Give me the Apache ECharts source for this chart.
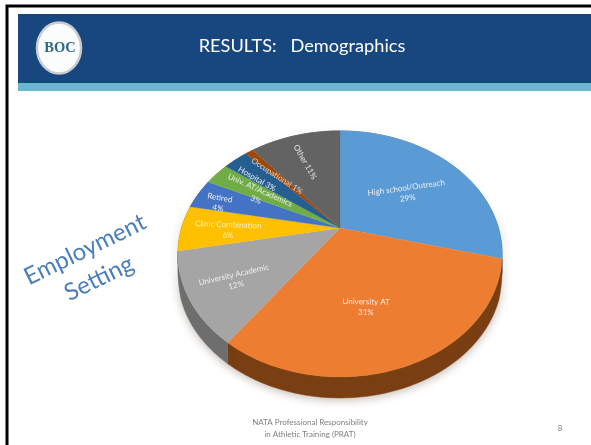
<!DOCTYPE html>
<html><head><meta charset="utf-8">
<style>html,body{margin:0;padding:0;background:#fff}#c{width:591px;height:445px;filter:blur(.35px)}</style>
<script src="https://cdn.jsdelivr.net/npm/echarts@6/dist/echarts.min.js"></script>
</head><body><div id="c"></div>
<script>
const categories = ['High school/Outreach','University AT','University Academic','Clinic Combination','Retired','Univ. AT/Academics','Hospital','Occupational','Other'];
const values = [29,31,12,6,4,3,3,1,11];
const labelTexts = ['High school/Outreach\n29%','University AT\n31%','University Academic\n12%','Clinic Combination\n6%','Retired\n4%','Univ. AT/Academics\n3%','Hospital 3%','Occupational 1%','Other 11%'];
const colors = ['#5b9bd5','#ed7d31','#a5a5a5','#ffc000','#4472c4','#70ad47','#255e91','#9e480e','#636363'];
const wallColors = ['#3c6a94','#7a3f12','#6f6f6f','#a67d00','#2c4a80','#48702d','#183d5e','#66300a','#404040'];
// label placement on the pie's disc (unit circle) and text rotation
const labelSpots = [[.451,-.318,8],[.144,.589,-1],[-.606,.405,13],[-.704,.017,-2],[-.80,-.223,-10],[-.55,-.298,-24],[-.574,-.457,-30],[-.438,-.488,-33],[-.25,-.638,-60]];

const total = values.reduce((a,b)=>a+b,0);
const PIE = {cx:340,cy:228,A:117.5,B:158.5,k:.211,depth:21};
function project(u,v){const d=1-PIE.k*v;return [PIE.cx+PIE.B*u/d,PIE.cy+PIE.A*v/d];}
function rim(a0,a1){const pts=[];const n=Math.max(4,Math.ceil((a1-a0)/0.02));
  for(let i=0;i<=n;i++){const a=a0+(a1-a0)*i/n;pts.push(project(Math.sin(a),-Math.cos(a)));}return pts;}
let acc=0;
const rows = values.map((v,i)=>{const s=acc;acc+=v;return [i,s,acc];});

function renderWall(params,api){
  const i=api.value(0),a0=api.value(1)/total*2*Math.PI,a1=api.value(2)/total*2*Math.PI;
  const top=rim(a0,a1);
  const low=top.map(p=>[p[0],p[1]+PIE.depth*Math.max(0,Math.min(1,(p[1]-PIE.cy+20)/70))]).reverse();
  return {type:'polygon',shape:{points:top.concat(low)},style:{fill:wallColors[i],stroke:wallColors[i],lineWidth:.5,shadowBlur:9,shadowColor:'rgba(90,70,50,.35)',shadowOffsetY:2}};
}
function renderTop(params,api){
  const i=api.value(0),a0=api.value(1)/total*2*Math.PI,a1=api.value(2)/total*2*Math.PI;
  const pts=[[PIE.cx,PIE.cy]].concat(rim(a0,a1));
  const sp=labelSpots[i],c=project(sp[0],sp[1]);
  return {type:'group',children:[
    {type:'polygon',shape:{points:pts},style:{fill:colors[i],stroke:colors[i],lineWidth:.3}},
    {type:'text',x:c[0],y:c[1],rotation:sp[2]*Math.PI/180,z2:5,
      style:{text:labelTexts[i],x:0,y:0,align:'center',verticalAlign:'middle',lineHeight:10.5,
        font:'8px Lato',fill:i===3?'#fff3c8':(i===7?'#f3d9bf':'#f2f2f2'),opacity:.95}}
  ]};
}
const chart=echarts.init(document.getElementById('c'),null,{renderer:'canvas'});
chart.setOption({
  animation:false,backgroundColor:'#fff',
  graphic:[
    {type:'rect',z:0,shape:{x:7,y:6,width:590,height:445},style:{fill:'#fff',stroke:'#000',lineWidth:3}},
    {type:'rect',z:1,shape:{x:18,y:14,width:573,height:68},style:{fill:'#17477e'}},
    {type:'rect',z:1,shape:{x:18,y:82,width:573,height:1},style:{fill:'#12506f'}},
    {type:'rect',z:1,shape:{x:18,y:83,width:573,height:8},style:{fill:'#6cb6cf'}},
    {type:'ellipse',z:2,shape:{cx:59,cy:48,rx:22,ry:25.5},style:{fill:'#fbfcfc',stroke:'#c9ccd0',lineWidth:2.5}},
    {type:'text',z:3,style:{text:'BOC',x:60,y:48,align:'center',verticalAlign:'middle',font:'bold 14.5px "Liberation Serif"',fill:'#2b6a85'}},
    {type:'text',z:3,style:{text:'RESULTS:   Demographics',x:302,y:46.5,align:'center',verticalAlign:'middle',font:'18.2px Lato',fill:'#fff'}},
    {type:'text',z:3,x:92,y:264,rotation:26*Math.PI/180,style:{text:'Employment\nSetting',x:0,y:0,align:'center',verticalAlign:'middle',lineHeight:32,font:'24px Lato',fill:'#4a7ebb'}},
    {type:'text',z:3,style:{text:'NATA Professional Responsibility\nin Athletic Training (PRAT)',x:310,y:428,align:'center',verticalAlign:'middle',lineHeight:12,font:'8px Lato',fill:'#808080'}},
    {type:'text',z:3,style:{text:'8',x:560,y:428,align:'center',verticalAlign:'middle',font:'8px Lato',fill:'#808080'}}
  ],
  series:[
    {type:'custom',coordinateSystem:'none',z:5,data:rows,renderItem:renderWall,silent:true},
    {type:'custom',coordinateSystem:'none',z:6,data:rows,renderItem:renderTop,silent:true}
  ]
});
</script></body></html>
